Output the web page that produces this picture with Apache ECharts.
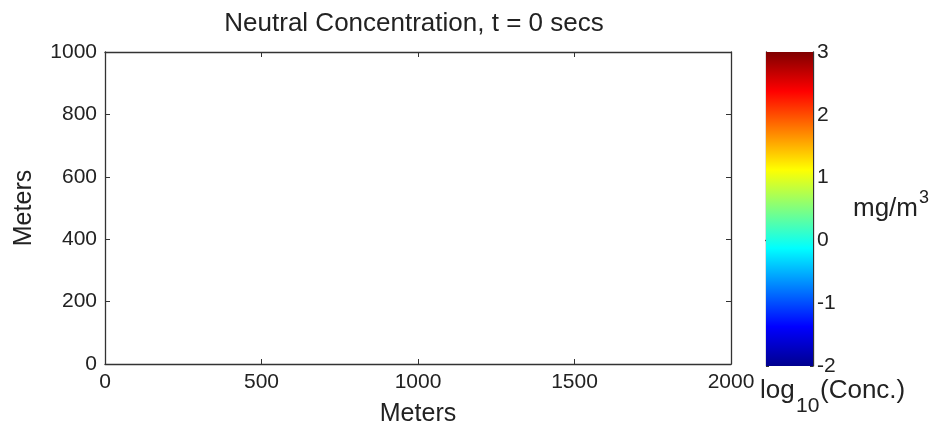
<!DOCTYPE html>
<html>
<head>
<meta charset="utf-8">
<script src="https://cdn.jsdelivr.net/npm/echarts@6/dist/echarts.min.js"></script>
<style>html,body{margin:0;padding:0;background:#fff;}#c{width:933px;height:432px;}</style>
</head>
<body>
<div id="c"></div>
<script>
var titleText = 'Neutral Concentration, t = 0 secs';
var xRange = [0, 2000];
var xInterval = 500;
var yRange = [0, 1000];
var yInterval = 200;
var cbRange = [-2, 3];
var cbInterval = 1;
var jetStops = [
  [0.0, '#00008f'], [0.125, '#0000ff'], [0.375, '#00ffff'],
  [0.625, '#ffff00'], [0.875, '#ff0000'], [1.0, '#800000']
];

var FONT = '"Liberation Sans", Arial, sans-serif';
var TXT = '#222';
var TICK_FS = 21;
var chart = echarts.init(document.getElementById('c'), null, {renderer: 'canvas'});

function plain(v) { return String(v); }

function mainAxis(pos, showLabel, range, interval, gridIndex, extra) {
  var a = {
    type: 'value', gridIndex: gridIndex, position: pos, min: range[0], max: range[1], interval: interval,
    axisLine: {show: true, onZero: false, lineStyle: {color: '#333', width: 1.3}},
    axisTick: {show: true, inside: true, length: 5, lineStyle: {color: '#333'}},
    axisLabel: {show: showLabel, fontSize: TICK_FS, color: TXT, fontFamily: FONT, margin: 8, formatter: plain},
    splitLine: {show: false}
  };
  for (var k in extra) a[k] = extra[k];
  return a;
}

var gradStops = jetStops.map(function (s) { return {offset: 1 - s[0], color: s[1]}; });

function txt(str, x, y, fs) {
  return {type: 'text', x: x, y: y, z: 10, style: {
    text: str, fill: TXT, font: fs + 'px ' + FONT, fontSize: fs, fontFamily: FONT,
    align: 'left', verticalAlign: 'middle', textAlign: 'left', textVerticalAlign: 'middle'
  }};
}

var option = {
  backgroundColor: '#fff',
  animation: false,
  title: {
    text: titleText, left: 409, top: 6, textAlign: 'center',
    textStyle: {fontSize: 26, fontWeight: 'normal', color: TXT, fontFamily: FONT}
  },
  grid: [
    {left: 105, right: 202, top: 52, bottom: 68},
    {left: 766, right: 120, top: 52, bottom: 66}
  ],
  xAxis: [
    mainAxis('bottom', true, xRange, xInterval, 0, {name: 'Meters', nameLocation: 'middle', nameGap: 38,
      nameTextStyle: {fontSize: 25, color: TXT, fontFamily: FONT}}),
    mainAxis('top', false, xRange, xInterval, 0, {}),
    {type: 'category', gridIndex: 1, position: 'bottom', data: [''], axisLine: {show: true, lineStyle: {color: '#333', width: 1.3}}, axisTick: {show: false}, axisLabel: {show: false}},
    {type: 'category', gridIndex: 1, position: 'top', data: [''], axisLine: {show: true, lineStyle: {color: '#333', width: 1.3}}, axisTick: {show: false}, axisLabel: {show: false}}
  ],
  yAxis: [
    mainAxis('left', true, yRange, yInterval, 0, {name: 'Meters', nameLocation: 'middle', nameGap: 68, nameRotate: 90,
      nameTextStyle: {fontSize: 25, color: TXT, fontFamily: FONT}}),
    mainAxis('right', false, yRange, yInterval, 0, {}),
    mainAxis('right', true, cbRange, cbInterval, 1, {axisTick: {show: true, inside: true, length: 3, lineStyle: {color: '#333'}},
      axisLabel: {show: true, fontSize: TICK_FS, color: TXT, fontFamily: FONT, margin: 4, formatter: plain}}),
    mainAxis('left', false, cbRange, cbInterval, 1, {axisTick: {show: true, inside: true, length: 3, lineStyle: {color: '#333'}}})
  ],
  series: [
    {type: 'line', xAxisIndex: 0, yAxisIndex: 0, data: []},
    {type: 'line', xAxisIndex: 2, yAxisIndex: 2, data: [], silent: true,
      markArea: {silent: true, data: [[{yAxis: cbRange[0]}, {yAxis: cbRange[1]}]],
        itemStyle: {color: {type: 'linear', x: 0, y: 0, x2: 0, y2: 1, colorStops: gradStops}, opacity: 1}}}
  ],
  graphic: [
    txt('mg/m', 853, 209, 26),
    txt('3', 919, 198, 18),
    txt('log', 760, 391, 26),
    txt('10', 796, 406, 21),
    txt('(Conc.)', 820, 391, 26)
  ]
};
chart.setOption(option);
</script>
</body>
</html>
